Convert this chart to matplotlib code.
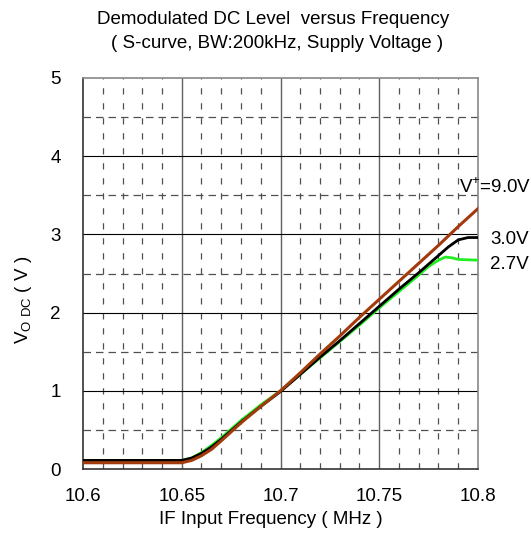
import matplotlib
matplotlib.use("Agg")
import matplotlib.pyplot as plt
import numpy as np

plt.rcParams['font.family'] = ['Liberation Sans', 'DejaVu Sans']

# --- data ---
freq_9v = [10.60, 10.62, 10.64, 10.65, 10.655, 10.66, 10.665, 10.67, 10.68, 10.69,
           10.70, 10.71, 10.72, 10.73, 10.74, 10.75, 10.76, 10.77, 10.78, 10.79, 10.80]
v_9v = [0.08, 0.08, 0.08, 0.08, 0.11, 0.17, 0.25, 0.36, 0.59, 0.80,
        1.00, 1.23, 1.47, 1.70, 1.94, 2.17, 2.40, 2.63, 2.86, 3.10, 3.33]

freq_3v = [10.60, 10.62, 10.64, 10.65, 10.655, 10.66, 10.665, 10.67, 10.68, 10.69,
           10.70, 10.71, 10.72, 10.73, 10.74, 10.75, 10.76, 10.77, 10.78, 10.785,
           10.79, 10.795, 10.80]
v_3v = [0.11, 0.11, 0.11, 0.11, 0.14, 0.20, 0.28, 0.38, 0.60, 0.80,
        0.99, 1.21, 1.43, 1.64, 1.86, 2.08, 2.30, 2.51, 2.73, 2.84,
        2.93, 2.96, 2.96]

freq_27v = [10.60, 10.62, 10.64, 10.65, 10.655, 10.66, 10.665, 10.67, 10.68, 10.69,
            10.70, 10.71, 10.72, 10.73, 10.74, 10.75, 10.76, 10.77, 10.775, 10.78,
            10.7835, 10.787, 10.79, 10.80]
v_27v = [0.11, 0.11, 0.11, 0.11, 0.14, 0.21, 0.30, 0.40, 0.62, 0.82,
         1.00, 1.21, 1.42, 1.63, 1.84, 2.06, 2.27, 2.48, 2.59, 2.67,
         2.71, 2.70, 2.68, 2.67]

x_ticks = [10.6, 10.65, 10.7, 10.75, 10.8]
x_tick_labels = ['10.6', '10.65', '10.7', '10.75', '10.8']
y_ticks = [0, 1, 2, 3, 4, 5]
y_tick_labels = ['0', '1', '2', '3', '4', '5']

FS = 13.5

fig = plt.figure(figsize=(5.31, 5.48), dpi=100)
ax = fig.add_axes([83/531, 1-469/548, (478-83)/531, (469-78)/548])
ax.set_xlim(10.6, 10.8)
ax.set_ylim(0, 5)

# grid: minor dashed
for xm in np.arange(10.61, 10.80, 0.01):
    if abs((xm - 10.6) / 0.05 - round((xm - 10.6) / 0.05)) < 1e-6:
        continue
    ax.axvline(xm, color='#505050', lw=0.9, ls=(0, (5, 7)), zorder=1)
for ym in [0.5, 1.5, 2.5, 3.5, 4.5]:
    ax.axhline(ym, color='#505050', lw=0.9, ls=(0, (6, 4)), zorder=1)
for xM in [10.65, 10.7, 10.75]:
    ax.axvline(xM, color='#606060', lw=1.0, zorder=1)
for yM in [1, 2, 3, 4]:
    ax.axhline(yM, color='#000000', lw=0.8, zorder=1)

ax.plot(freq_27v, v_27v, color='#22ee22', lw=2.0, zorder=3)
ax.plot(freq_3v, v_3v, color='#000000', lw=2.0, zorder=4)
ax.plot(freq_9v, v_9v, color='#a33a0c', lw=2.2, zorder=5)

ax.set_xticks(x_ticks)
ax.set_xticklabels(x_tick_labels)
ax.set_yticks(y_ticks)
ax.set_yticklabels(y_tick_labels)
ax.tick_params(axis='both', length=0, labelsize=FS, colors='black')
ax.tick_params(axis='x', pad=14)
ax.tick_params(axis='y', pad=16)

for side in ['top', 'right']:
    ax.spines[side].set_color('#888888')
for side in ['left', 'bottom']:
    ax.spines[side].set_color('#333333')
for s in ax.spines.values():
    s.set_linewidth(1.2)

fig.text(273/531, 1-20/548, 'Demodulated DC Level  versus Frequency', ha='center', va='center', fontsize=FS)
fig.text(277/531, 1-44/548, '( S-curve, BW:200kHz, Supply Voltage )', ha='center', va='center', fontsize=FS)
fig.text(271/531, 1-520/548, 'IF Input Frequency ( MHz )', ha='center', va='center', fontsize=FS)
fig.text(23/531, 1-300/548, r'V$_{\mathregular{O\ DC}}$ ( V )', ha='center', va='center',
         rotation=90, fontsize=FS)

fig.text(459/531, 1-187/548, r'V$^{\mathregular{+}}$=9.0V', ha='left', va='center', fontsize=FS)
fig.text(490/531, 1-240/548, '3.0V', ha='left', va='center', fontsize=FS)
fig.text(490/531, 1-264/548, '2.7V', ha='left', va='center', fontsize=FS)

fig.savefig('out.png', dpi=100)
